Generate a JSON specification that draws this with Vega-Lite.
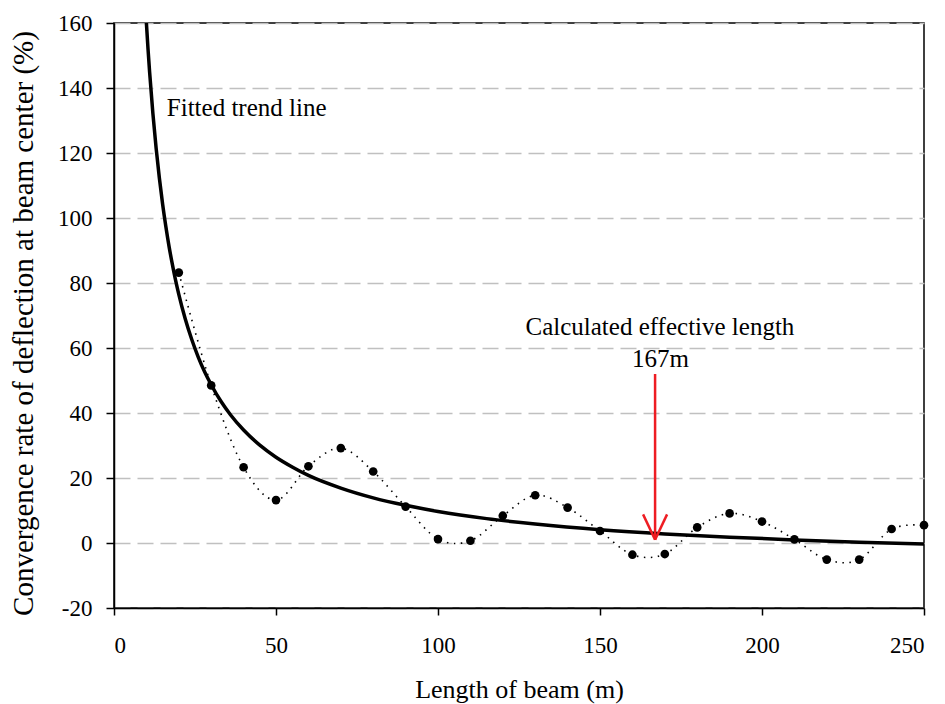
{
  "$schema": "https://vega.github.io/schema/vega-lite/v6.json",
  "width": 810,
  "height": 585,
  "autosize": "none",
  "padding": {"left": 114, "top": 23, "right": 21, "bottom": 96},
  "background": "white",
  "config": {
    "font": "Times New Roman, Liberation Serif, DejaVu Serif, serif",
    "view": {"stroke": "black", "strokeWidth": 1.5}
  },
  "datasets": {
    "obs": [
      {"length": 20, "rate": 83.2},
      {"length": 30, "rate": 48.5},
      {"length": 40, "rate": 23.3},
      {"length": 50, "rate": 13.2},
      {"length": 60, "rate": 23.6},
      {"length": 70, "rate": 29.2},
      {"length": 80, "rate": 22.0},
      {"length": 90, "rate": 11.2},
      {"length": 100, "rate": 1.2},
      {"length": 110, "rate": 0.7},
      {"length": 120, "rate": 8.4},
      {"length": 130, "rate": 14.7},
      {"length": 140, "rate": 10.9},
      {"length": 150, "rate": 3.7},
      {"length": 160, "rate": -3.6},
      {"length": 170, "rate": -3.4},
      {"length": 180, "rate": 4.8},
      {"length": 190, "rate": 9.1},
      {"length": 200, "rate": 6.6},
      {"length": 210, "rate": 1.1},
      {"length": 220, "rate": -5.1},
      {"length": 230, "rate": -5.1},
      {"length": 240, "rate": 4.3},
      {"length": 250, "rate": 5.5}
    ],
    "trend": [
      {"length": 10, "rate": 160},
      {"length": 10.5, "rate": 152.0},
      {"length": 11, "rate": 144.8},
      {"length": 12, "rate": 132.2},
      {"length": 13, "rate": 121.5},
      {"length": 14, "rate": 112.3},
      {"length": 15, "rate": 104.3},
      {"length": 16, "rate": 97.4},
      {"length": 17, "rate": 91.2},
      {"length": 18, "rate": 85.8},
      {"length": 19, "rate": 80.9},
      {"length": 20, "rate": 76.5},
      {"length": 22, "rate": 68.9},
      {"length": 24, "rate": 62.6},
      {"length": 26, "rate": 57.2},
      {"length": 28, "rate": 52.6},
      {"length": 30, "rate": 48.7},
      {"length": 33, "rate": 43.6},
      {"length": 36, "rate": 39.4},
      {"length": 40, "rate": 34.75},
      {"length": 45, "rate": 30.1},
      {"length": 50, "rate": 26.4},
      {"length": 55, "rate": 23.4},
      {"length": 60, "rate": 20.8},
      {"length": 70, "rate": 16.9},
      {"length": 80, "rate": 13.9},
      {"length": 90, "rate": 11.6},
      {"length": 100, "rate": 9.7},
      {"length": 115, "rate": 7.5},
      {"length": 130, "rate": 5.85},
      {"length": 150, "rate": 4.1},
      {"length": 170, "rate": 2.8},
      {"length": 190, "rate": 1.8},
      {"length": 210, "rate": 0.95},
      {"length": 230, "rate": 0.26},
      {"length": 250, "rate": -0.3}
    ],
    "arrow": [
      {"x1": 167, "y1": 52, "x2": 167, "y2": 1},
      {"x1": 163.3, "y1": 8.8, "x2": 167, "y2": 1},
      {"x1": 170.7, "y1": 8.8, "x2": 167, "y2": 1}
    ],
    "notesLeft": [
      {"x": 16.3, "y": 131.4, "label": "Fitted trend line"}
    ],
    "notesCenter": [
      {"x": 168.5, "y": 63.9, "label": "Calculated effective length"},
      {"x": 168.7, "y": 54.1, "label": "167m"}
    ]
  },
  "layer": [
    {
      "data": {"name": "obs"},
      "mark": {"type": "line", "interpolate": "cardinal", "color": "black", "strokeWidth": 1.6, "strokeDash": [1.5, 5.5], "clip": true},
      "encoding": {
        "x": {
          "field": "length", "type": "quantitative",
          "scale": {"domain": [0, 250], "nice": false, "zero": false},
          "axis": {
            "values": [0, 50, 100, 150, 200, 250],
            "title": "Length of beam (m)",
            "grid": false,
            "labelFont": "Times New Roman, Liberation Serif, DejaVu Serif, serif",
            "titleFont": "Times New Roman, Liberation Serif, DejaVu Serif, serif",
            "labelFontSize": 23,
            "titleFontSize": 26,
            "titleFontWeight": "normal",
            "labelColor": "black",
            "titleColor": "black",
            "domainColor": "black",
            "domainWidth": 1.5,
            "tickColor": "black",
            "tickWidth": 1.5,
            "tickSize": 7,
            "labelBaseline": "alphabetic",
            "labelPadding": 37,
            "titleBaseline": "alphabetic",
            "titleY": 89
          }
        },
        "y": {
          "field": "rate", "type": "quantitative",
          "scale": {"domain": [-20, 160], "nice": false, "zero": false},
          "axis": {
            "values": [-20, 0, 20, 40, 60, 80, 100, 120, 140, 160],
            "labelExpr": "'' + datum.value",
            "title": "Convergence rate of deflection at beam center (%)",
            "labelFont": "Times New Roman, Liberation Serif, DejaVu Serif, serif",
            "titleFont": "Times New Roman, Liberation Serif, DejaVu Serif, serif",
            "labelFontSize": 23,
            "titleFontSize": 29,
            "titleFontWeight": "normal",
            "labelColor": "black",
            "titleColor": "black",
            "domainColor": "black",
            "domainWidth": 1.5,
            "tickColor": "black",
            "tickWidth": 1.5,
            "grid": true,
            "gridColor": "#c0c0c0",
            "gridDash": [16, 7],
            "gridWidth": 1.3,
            "tickSize": 8,
            "labelPadding": 14,
            "titleBaseline": "alphabetic",
            "titleAlign": "center",
            "titleX": -82,
            "titleY": 300
          }
        }
      }
    },
    {
      "data": {"name": "trend"},
      "mark": {"type": "line", "interpolate": "monotone", "color": "black", "strokeWidth": 3.5, "clip": true},
      "encoding": {
        "x": {"field": "length", "type": "quantitative"},
        "y": {"field": "rate", "type": "quantitative"}
      }
    },
    {
      "data": {"name": "obs"},
      "mark": {"type": "circle", "color": "black", "opacity": 1, "size": 75},
      "encoding": {
        "x": {"field": "length", "type": "quantitative"},
        "y": {"field": "rate", "type": "quantitative"}
      }
    },
    {
      "data": {"name": "arrow"},
      "mark": {"type": "rule", "color": "#ee1d23", "strokeWidth": 2.5},
      "encoding": {
        "x": {"field": "x1", "type": "quantitative"},
        "y": {"field": "y1", "type": "quantitative"},
        "x2": {"field": "x2"},
        "y2": {"field": "y2"}
      }
    },
    {
      "data": {"name": "notesLeft"},
      "mark": {"type": "text", "fontSize": 25, "font": "Times New Roman, Liberation Serif, DejaVu Serif, serif", "color": "black", "baseline": "alphabetic", "align": "left"},
      "encoding": {
        "x": {"field": "x", "type": "quantitative"},
        "y": {"field": "y", "type": "quantitative"},
        "text": {"field": "label"}
      }
    },
    {
      "data": {"name": "notesCenter"},
      "mark": {"type": "text", "fontSize": 25, "font": "Times New Roman, Liberation Serif, DejaVu Serif, serif", "color": "black", "baseline": "alphabetic", "align": "center"},
      "encoding": {
        "x": {"field": "x", "type": "quantitative"},
        "y": {"field": "y", "type": "quantitative"},
        "text": {"field": "label"}
      }
    }
  ]
}
